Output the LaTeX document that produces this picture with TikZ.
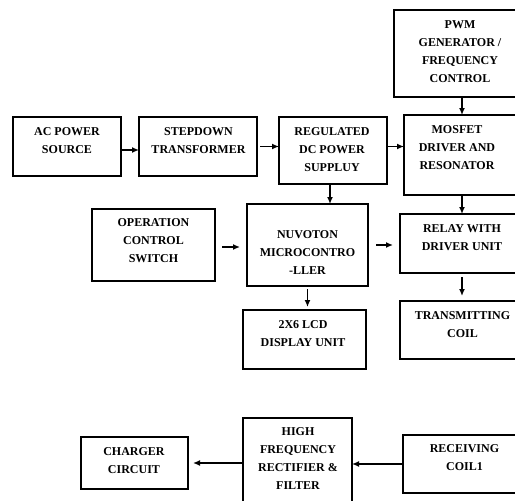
\documentclass[tikz,border=0pt]{standalone}
\usepackage{fontspec}
\setmainfont{Liberation Serif}
\usetikzlibrary{arrows.meta}
\begin{document}
\begin{tikzpicture}[x=1pt,y=-1pt,
  box/.style={draw=black, line width=1.4pt, rectangle, anchor=north west, inner sep=0pt, outer sep=0pt},
  lbl/.style={font=\bfseries\fontsize{12}{18}\selectfont, align=center, inner sep=0pt, anchor=north, text=black},
  arr/.style={line width=1.3pt, -{Latex[length=7pt,width=6pt]}}]
\useasboundingbox (0,0) rectangle (515,501);
\clip (0,0) rectangle (515,501);
% boxes
\node[box, minimum width=108pt, minimum height=59pt] (ac) at (13,117) {};
\node[box, minimum width=118pt, minimum height=59pt] (sd) at (139,117) {};
\node[box, minimum width=108pt, minimum height=67pt] (reg) at (279,117) {};
\node[box, minimum width=136pt, minimum height=87pt] (pwm) at (394,10) {};
\node[box, minimum width=116pt, minimum height=80pt] (mos) at (404,115) {};
\node[box, minimum width=123pt, minimum height=72pt] (op) at (92,209) {};
\node[box, minimum width=121pt, minimum height=82pt] (nu) at (247,204) {};
\node[box, minimum width=124pt, minimum height=59pt] (rel) at (400,214) {};
\node[box, minimum width=123pt, minimum height=59pt] (lcd) at (243,310) {};
\node[box, minimum width=124pt, minimum height=58pt] (tx) at (400,301) {};
\node[box, minimum width=107pt, minimum height=52pt] (ch) at (81,437) {};
\node[box, minimum width=109pt, minimum height=87pt] (hf) at (243,418) {};
\node[box, minimum width=124pt, minimum height=58pt] (rc) at (403,435) {};
% texts
\node[lbl] (acT) at (67,127.5) {AC POWER\\SOURCE};
\node[lbl] (sdT) at (198.5,127.5) {STEPDOWN\\TRANSFORMER};
\node[lbl] (regT) at (332,127) {REGULATED\\DC POWER\\SUPPLUY};
\node[lbl] (pwmT) at (460,20) {PWM\\GENERATOR /\\FREQUENCY\\CONTROL};
\node[lbl] (mosT) at (457,125) {MOSFET\\DRIVER AND\\RESONATOR};
\node[lbl] (opT) at (153.5,218.5) {OPERATION\\CONTROL\\SWITCH};
\node[lbl] (nuT) at (307.5,230) {NUVOTON\\MICROCONTRO\\-LLER};
\node[lbl] (relT) at (462,224) {RELAY WITH\\DRIVER UNIT};
\node[lbl] (lcdT) at (303,320) {2X6 LCD\\DISPLAY UNIT};
\node[lbl] (txT) at (462.5,311) {TRANSMITTING\\COIL};
\node[lbl] (chT) at (134,447) {CHARGER\\CIRCUIT};
\node[lbl] (hfT) at (298,427) {HIGH\\FREQUENCY\\RECTIFIER \&\\FILTER};
\node[lbl] (rcT) at (464.5,444.5) {RECEIVING\\COIL1};
% connectors
\draw[arr] ([yshift=-3.5pt]ac.east) -- ([yshift=-3.5pt]ac.east -| sd.west);
\draw[arr, shorten <=3pt] (sd.east) -- (sd.east -| reg.west);
\draw[arr] (reg.east |- sd.east) -- (sd.east -| mos.west);
\draw[arr] (pwm) -- (mos);
\draw[arr] ([xshift=-3pt]reg.south) -- ([xshift=-3pt]reg.south |- nu.north);
\draw[arr] (mos) -- (rel);
\draw[arr, shorten <=7pt, shorten >=7pt] ([yshift=-2pt]op.east) -- ([yshift=-2pt]op.east -| nu.west);
\draw[arr, shorten <=8pt, shorten >=7pt] (nu.east) -- (nu.east -| rel.west);
\draw[arr, shorten <=3pt, shorten >=3pt] (nu.south) -- (nu.south |- lcd.north);
\draw[arr, shorten <=4pt, shorten >=5pt] (rel) -- (tx);
\draw[arr, shorten >=5pt] (hf.west |- ch.east) -- (ch.east);
\draw[arr] (rc.west) -- (rc.west -| hf.east);
\end{tikzpicture}
\end{document}
